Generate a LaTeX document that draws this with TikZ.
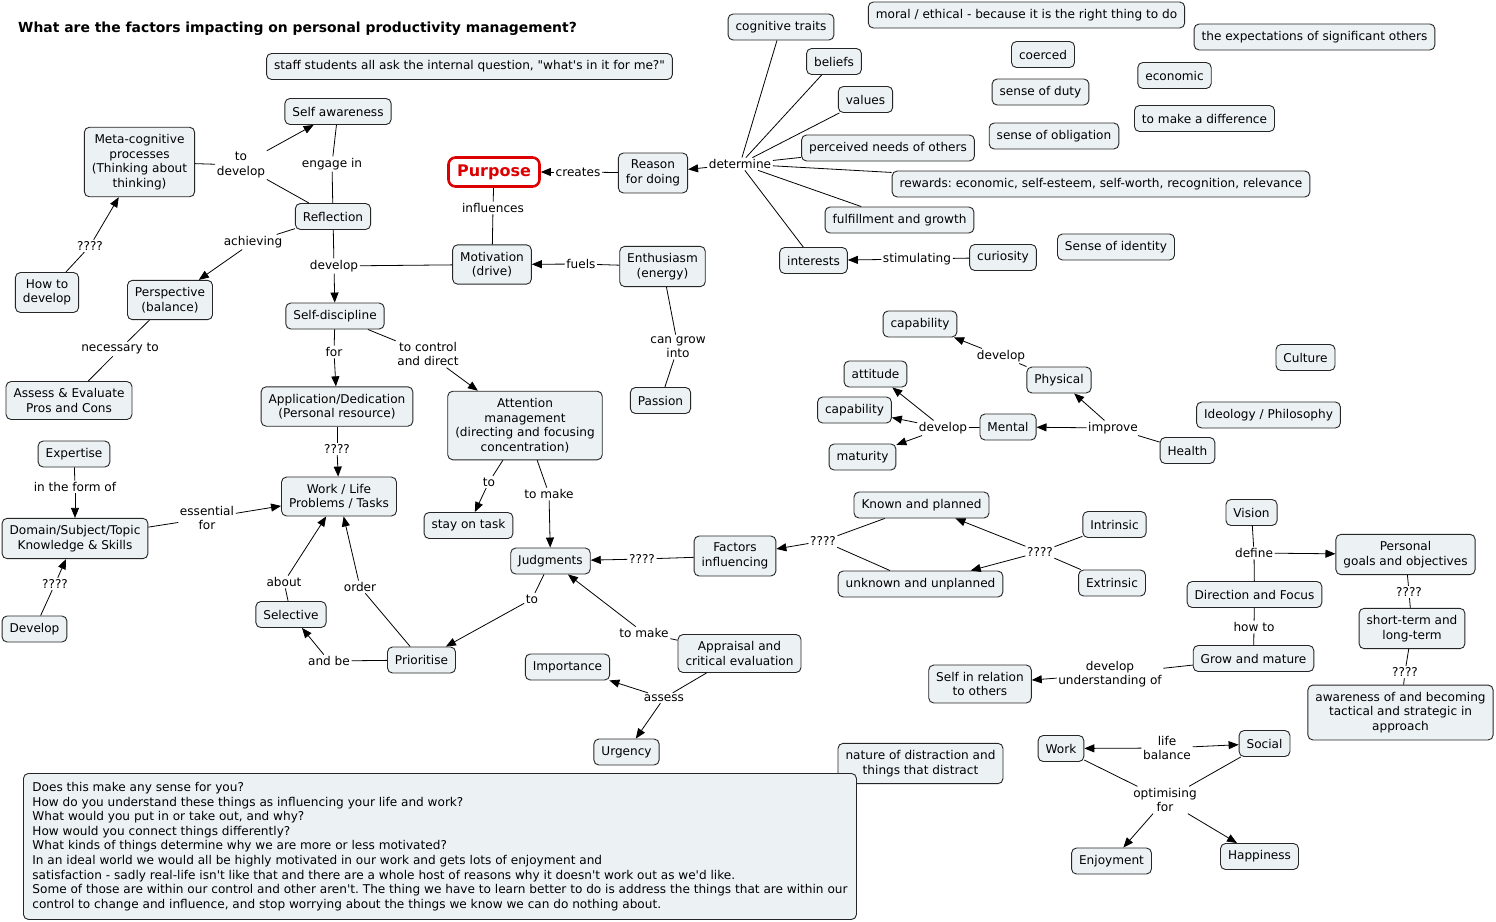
\documentclass[tikz,border=0pt]{standalone}
\usepackage{fontspec}
\setmainfont{DejaVu Sans}[Ligatures=TeXOff]
\usetikzlibrary{arrows.meta}
\definecolor{cfill}{RGB}{236,242,244}
\definecolor{pred}{RGB}{220,0,0}
\newcommand\mapfont{\fontsize{12.1}{14.6}\selectfont\frenchspacing}
\frenchspacing
\begin{document}
\begin{tikzpicture}[x=1pt,y=-1pt,
  concept/.style={draw=black!85, line width=0.9pt, fill=cfill, rounded corners=5pt, inner xsep=7.5pt, inner ysep=7pt, minimum height=26pt, align=center, font=\mapfont},
  lbl/.style={inner sep=1.5pt, align=center, font=\mapfont},
  link/.style={draw=black, line width=0.8pt},
  arr/.style={link, -{Triangle[length=10pt,width=8pt]}},
]
\useasboundingbox (0,0) rectangle (1496,921);
\fill[white] (0,0) rectangle (1496,921);

% title
\node[anchor=west, inner sep=0pt, font=\fontsize{13.9}{16}\selectfont\bfseries] (title) at (18,28.5) {What are the factors impacting on personal productivity management?};

% concepts
\node[concept] (staff) at (469.5,66.5) {staff students all ask the internal question, "what's in it for me?"};
\node[concept] (cogtraits) at (781,27) {cognitive traits};
\node[concept] (moral) at (1026.5,15) {moral / ethical - because it is the right thing to do};
\node[concept] (expect) at (1314.5,37) {the expectations of significant others};
\node[concept] (coerced) at (1043,54.5) {coerced};
\node[concept] (beliefs) at (834,61.5) {beliefs};
\node[concept] (economic) at (1174.5,75.5) {economic};
\node[concept] (values) at (865.5,99.5) {values};
\node[concept] (duty) at (1040.5,92) {sense of duty};
\node[concept] (difference) at (1204.5,118.5) {to make a difference};
\node[concept] (obligation) at (1054,136) {sense of obligation};
\node[concept] (perceived) at (888,148) {perceived needs of others};
\node[concept] (rewards) at (1101,184) {rewards: economic, self-esteem, self-worth, recognition, relevance};
\node[concept] (fulfill) at (899.5,220) {fulfillment and growth};
\node[concept] (interests) at (813.5,260.5) {interests};
\node[concept] (curiosity) at (1003,257.5) {curiosity};
\node[concept] (identity) at (1116,247) {Sense of identity};
\node[concept] (reason) at (653,173) {Reason\\for doing};
\node[draw=pred, line width=2.6pt, fill=white, rounded corners=7pt, text=pred, font=\fontsize{16}{18}\selectfont\bfseries, minimum width=91pt, minimum height=29pt, inner sep=4pt] (purpose) at (494,172) {Purpose};
\node[concept] (selfaw) at (338,111.5) {Self awareness};
\node[concept] (meta) at (139.5,162) {Meta-cognitive\\processes\\(Thinking about\\thinking)};
\node[concept] (reflection) at (333,216.5) {Reflection};
\node[concept] (motivation) at (492,264.5) {Motivation\\(drive)};
\node[concept] (enthus) at (662.5,266.5) {Enthusiasm\\(energy)};
\node[concept] (howto) at (47,292.5) {How to\\develop};
\node[concept] (perspective) at (170,300) {Perspective\\(balance)};
\node[concept] (selfdisc) at (335,316) {Self-discipline};
\node[concept] (assess) at (69,400.5) {Assess \& Evaluate\\Pros and Cons};
\node[concept] (application) at (337,406.5) {Application/Dedication\\(Personal resource)};
\node[concept] (attention) at (525,425.5) {Attention\\management\\(directing and focusing\\concentration)};
\node[concept] (passion) at (660.5,400.5) {Passion};
\node[concept] (expertise) at (74,454) {Expertise};
\node[concept] (worklife) at (339,496.5) {Work / Life\\Problems / Tasks};
\node[concept] (domain) at (75,538.5) {Domain/Subject/Topic\\Knowledge \& Skills};
\node[concept] (stay) at (468.5,525.5) {stay on task};
\node[concept] (judgments) at (550.5,561) {Judgments};
\node[concept] (factors) at (735,556) {Factors\\influencing};
\node[concept] (develop) at (34.5,629) {Develop};
\node[concept] (selective) at (291,614.5) {Selective};
\node[concept] (prioritise) at (421.5,660) {Prioritise};
\node[concept] (importance) at (567.5,667) {Importance};
\node[concept] (appraisal) at (739.5,653.5) {Appraisal and\\critical evaluation};
\node[concept] (urgency) at (626.5,752) {Urgency};
\node[concept] (captop) at (920,324) {capability};
\node[concept] (attitude) at (875.5,374) {attitude};
\node[concept] (physical) at (1059,380) {Physical};
\node[concept] (capmid) at (854.5,410) {capability};
\node[concept] (mental) at (1008,427) {Mental};
\node[concept] (maturity) at (862.5,457) {maturity};
\node[concept] (health) at (1187.5,450.5) {Health};
\node[concept] (culture) at (1305.5,357.5) {Culture};
\node[concept] (ideology) at (1268.5,415) {Ideology / Philosophy};
\node[concept] (known) at (921.5,505) {Known and planned};
\node[concept] (intrinsic) at (1114.5,524.5) {Intrinsic};
\node[concept] (unknown) at (920.5,584) {unknown and unplanned};
\node[concept] (extrinsic) at (1112,583) {Extrinsic};
\node[concept] (vision) at (1251.5,512.5) {Vision};
\node[concept] (personal) at (1405.5,554.5) {Personal\\goals and objectives};
\node[concept] (direction) at (1254.5,594.5) {Direction and Focus};
\node[concept] (shortterm) at (1412,628.5) {short-term and\\long-term};
\node[concept] (grow) at (1253.5,658.5) {Grow and mature};
\node[concept] (selfrel) at (980,684) {Self in relation\\to others};
\node[concept] (awareness) at (1400.5,712.5) {awareness of and becoming\\tactical and strategic in\\approach};
\node[concept] (distraction) at (920.5,763.5) {nature of distraction and\\things that distract};
\node[concept] (work) at (1061,748.5) {Work};
\node[concept] (social) at (1264.5,743.5) {Social};
\node[concept] (enjoyment) at (1111.5,861) {Enjoyment};
\node[concept] (happiness) at (1259.5,856.5) {Happiness};

\node[concept, anchor=north west, align=left, minimum width=833pt, minimum height=146pt, inner xsep=8pt] (questions) at (23,773) {Does this make any sense for you?\\
How do you understand these things as influencing your life and work?\\
What would you put in or take out, and why?\\
How would you connect things differently?\\
What kinds of things determine why we are more or less motivated?\\
In an ideal world we would all be highly motivated in our work and gets lots of enjoyment and\\
satisfaction - sadly real-life isn't like that and there are a whole host of reasons why it doesn't work out as we'd like.\\
Some of those are within our control and other aren't. The thing we have to learn better to do is address the things that are within our\\
control to change and influence, and stop worrying about the things we know we can do nothing about.};

% linking phrases
\node[lbl] (creates) at (578,172) {creates};
\node[lbl] (determine) at (740,164) {determine};
\node[lbl] (influences) at (493,208) {influences};
\node[lbl] (fuels) at (581,264) {fuels};
\node[lbl] (todevelop) at (241,165) {to\\develop};
\node[lbl] (engage) at (332,164) {engage in};
\node[lbl] (achieving) at (253,242) {achieving};
\node[lbl] (developR) at (334,266) {develop};
\node[lbl] (qa) at (90,246) {????};
\node[lbl] (necessary) at (120,349) {necessary to};
\node[lbl] (for) at (334,352) {for};
\node[lbl] (tocontrol) at (428,354) {to control\\and direct};
\node[lbl] (cangrow) at (678,347) {can grow\\into};
\node[lbl] (qb) at (337,449) {????};
\node[lbl] (inform) at (75,487) {in the form of};
\node[lbl] (essential) at (207,518) {essential\\for};
\node[lbl] (qc) at (55,584) {????};
\node[lbl] (toA) at (489,482) {to};
\node[lbl] (tomakeA) at (549,494) {to make};
\node[lbl] (qd) at (642,559) {????};
\node[lbl] (qe) at (823,541) {????};
\node[lbl] (qf) at (1040,552) {????};
\node[lbl] (about) at (284,582) {about};
\node[lbl] (order) at (360,587) {order};
\node[lbl] (toB) at (532,599) {to};
\node[lbl] (tomakeB) at (644,633) {to make};
\node[lbl] (andbe) at (329,661) {and be};
\node[lbl] (assesslbl) at (664,698) {assess};
\node[lbl] (developP) at (1001,356) {develop};
\node[lbl] (developM) at (943,428) {develop};
\node[lbl] (improve) at (1113,428) {improve};
\node[lbl] (define) at (1254,553) {define};
\node[lbl] (howtoL) at (1254,627) {how to};
\node[lbl] (qg) at (1409,592) {????};
\node[lbl] (qh) at (1405,672) {????};
\node[lbl] (devund) at (1110,674) {develop\\understanding of};
\node[lbl] (lifebal) at (1167,748) {life\\balance};
\node[lbl] (optim) at (1165,800) {optimising\\for};
\node[lbl] (stimulating) at (917,259) {stimulating};

% connectors
\draw[link] (reason) -- (creates); \draw[arr] (creates) -- (purpose);
\foreach \s in {cogtraits,beliefs,values,perceived,rewards,fulfill,interests}
  \draw[link] (\s) -- (determine);
\draw[arr] (determine) -- (reason);
\draw[link] (purpose) -- (influences); \draw[link] (influences) -- (motivation);
\draw[link] (enthus) -- (fuels); \draw[arr] (fuels) -- (motivation);
\draw[link] (meta) -- (todevelop); \draw[arr] (todevelop) -- (selfaw);
\draw[link] (reflection) -- (todevelop);
\draw[link] (selfaw) -- (engage); \draw[link] (engage) -- (reflection);
\draw[link] (reflection) -- (achieving); \draw[arr] (achieving) -- (perspective);
\draw[link] (reflection) -- (developR); \draw[link] (motivation) -- (developR);
\draw[arr] (developR) -- (selfdisc);
\draw[link] (howto) -- (qa); \draw[arr] (qa) -- (meta);
\draw[link] (perspective) -- (necessary); \draw[link] (necessary) -- (assess);
\draw[link] (selfdisc) -- (for); \draw[arr] (for) -- (application);
\draw[link] (selfdisc) -- (tocontrol); \draw[arr] (tocontrol) -- (attention);
\draw[link] (enthus) -- (cangrow); \draw[link] (cangrow) -- (passion);
\draw[link] (application) -- (qb); \draw[arr] (qb) -- (worklife);
\draw[link] (expertise) -- (inform); \draw[arr] (inform) -- (domain);
\draw[link] (domain) -- (essential); \draw[arr] (essential) -- (worklife);
\draw[link] (develop) -- (qc); \draw[arr] (qc) -- (domain);
\draw[link] (attention) -- (toA); \draw[arr] (toA) -- (stay);
\draw[link] (attention) -- (tomakeA); \draw[arr] (tomakeA) -- (judgments);
\draw[link] (factors) -- (qd); \draw[arr] (qd) -- (judgments);
\draw[link] (known) -- (qe); \draw[link] (unknown) -- (qe); \draw[arr] (qe) -- (factors);
\draw[link] (intrinsic) -- (qf); \draw[link] (extrinsic) -- (qf);
\draw[arr] (qf) -- (known); \draw[arr] (qf) -- (unknown);
\draw[link] (selective) -- (about); \draw[arr] (about) -- (worklife);
\draw[link] (prioritise) -- (order); \draw[arr] (order) -- (worklife);
\draw[link] (judgments) -- (toB); \draw[arr] (toB) -- (prioritise);
\draw[link] (prioritise) -- (andbe); \draw[arr] (andbe) -- (selective);
\draw[link] (appraisal) -- (tomakeB); \draw[arr] (tomakeB) -- (judgments);
\draw[link] (appraisal) -- (assesslbl);
\draw[arr] (assesslbl) -- (importance); \draw[arr] (assesslbl) -- (urgency);
\draw[link] (physical) -- (developP); \draw[arr] (developP) -- (captop);
\draw[link] (mental) -- (developM);
\draw[arr] (developM) -- (attitude); \draw[arr] (developM) -- (capmid); \draw[arr] (developM) -- (maturity);
\draw[link] (health) -- (improve);
\draw[arr] (improve) -- (mental); \draw[arr] (improve) -- (physical);
\draw[link] (vision) -- (define); \draw[link] (direction) -- (define);
\draw[arr] (define) -- (personal);
\draw[link] (direction) -- (howtoL); \draw[link] (howtoL) -- (grow);
\draw[link] (personal) -- (qg); \draw[link] (qg) -- (shortterm);
\draw[link] (shortterm) -- (qh); \draw[link] (qh) -- (awareness);
\draw[link] (grow) -- (devund); \draw[arr] (devund) -- (selfrel);
\draw[arr] (lifebal) -- (work); \draw[arr] (lifebal) -- (social);
\draw[link] (work) -- (optim); \draw[link] (social) -- (optim);
\draw[arr] (optim) -- (enjoyment); \draw[arr] (optim) -- (happiness);
\draw[link] (curiosity) -- (stimulating); \draw[arr] (stimulating) -- (interests);
\end{tikzpicture}
\end{document}
